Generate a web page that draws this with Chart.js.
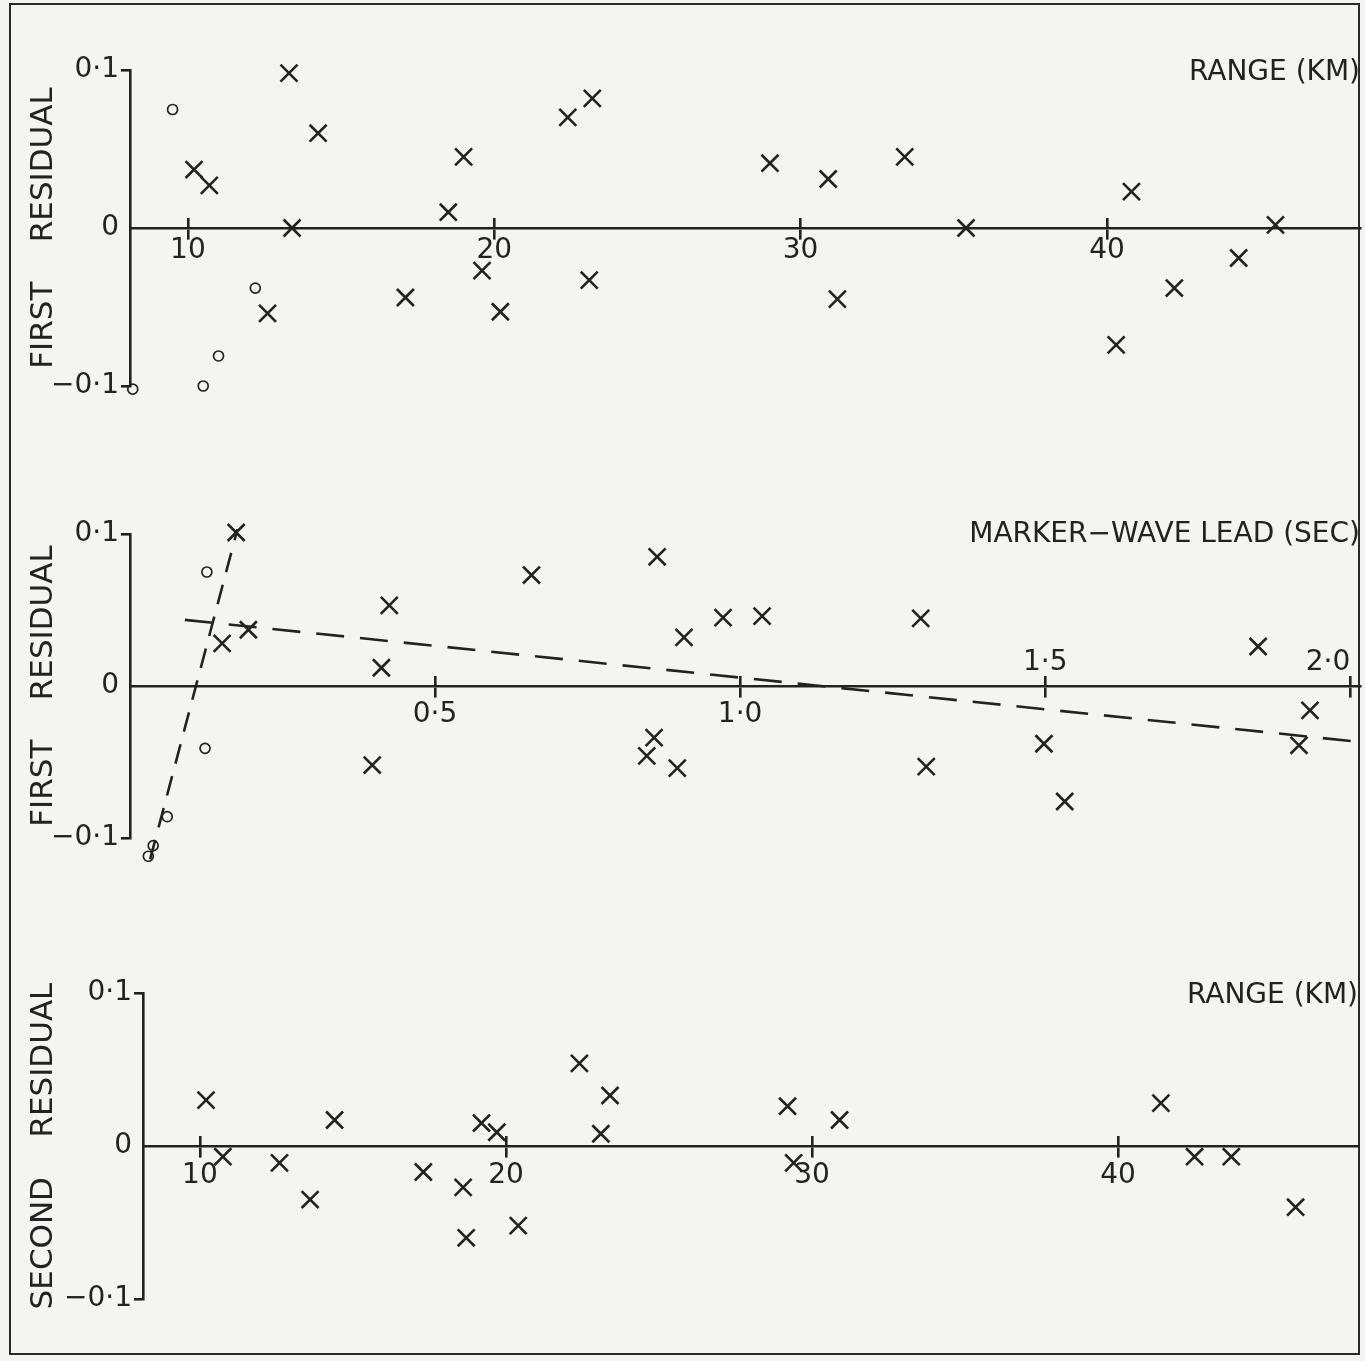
<!DOCTYPE html>
<html>
<head>
<meta charset="utf-8">
<script src="https://cdn.jsdelivr.net/npm/chart.js@4.4.1/dist/chart.umd.min.js"></script>
<style>
  html, body { margin: 0; padding: 0; background: #f4f4f2; }
  #page { position: relative; width: 1365px; height: 1361px; overflow: hidden; }
  #frame { position: absolute; left: 9px; top: 3px; width: 1351px; height: 1352px; border: 2px solid #2a2a2a; box-sizing: border-box; }
  canvas { position: absolute; left: 0; }
</style>
</head>
<body>
<div id="page">
  <div id="frame"></div>
  <canvas id="rangeChart" width="1365" height="460" style="top:0"></canvas>
  <canvas id="leadChart" width="1365" height="460" style="top:460px"></canvas>
  <canvas id="secondChart" width="1365" height="441" style="top:920px"></canvas>
</div>
<script>
    'use strict';

    // --- top panel: first residual vs range ---
    const RANGE1_CROSS_KM = [13.3, 10.2, 10.7, 14.25, 12.6, 13.4, 17.1, 18.5, 19.0, 19.6, 20.2, 22.4,
        23.2, 23.1, 29.0, 30.9, 31.2, 33.4, 35.4, 40.8, 40.3, 42.2, 44.3, 45.5];
    const RES1_CROSS = [0.098, 0.037, 0.027, 0.060, -0.054, 0.000, -0.044, 0.010, 0.045, -0.027, -0.053, 0.070,
        0.082, -0.033, 0.041, 0.031, -0.045, 0.045, 0.000, 0.023, -0.074, -0.038, -0.019, 0.002];
    const RANGE1_CIRCLE_KM = [9.5, 12.2, 11.0, 10.5, 8.2];
    const RES1_CIRCLE = [0.075, -0.038, -0.081, -0.100, -0.102];

    // --- middle panel: first residual vs marker-wave lead ---
    const LEAD_CROSS_SEC = [0.174, 0.151, 0.194, 0.425, 0.412, 0.397, 0.658, 0.864, 0.908, 0.859, 0.847,
        0.897, 0.972, 1.036, 1.296, 1.305, 1.498, 1.532, 1.849, 1.934, 1.916];
    const RES2_CROSS = [0.101, 0.028, 0.037, 0.053, 0.012, -0.052, 0.073, 0.085, 0.032, -0.034, -0.046,
        -0.054, 0.045, 0.046, 0.0445, -0.053, -0.038, -0.076, 0.026, -0.016, -0.039];
    const LEAD_CIRCLE_SEC = [0.126, 0.123, 0.061, 0.038, 0.030];
    const RES2_CIRCLE = [0.075, -0.041, -0.086, -0.105, -0.112];
    const STEEP_FIT_SEC = [0.033, 0.176];
    const STEEP_FIT_RES = [-0.114, 0.103];
    const SHALLOW_FIT_SEC = [0.090, 2.02];
    const SHALLOW_FIT_RES = [0.0435, -0.037];

    // --- bottom panel: second residual vs range ---
    const RANGE3_KM = [10.2, 10.75, 12.6, 13.6, 14.4, 17.3, 18.6, 18.7, 19.2, 19.7, 20.4, 22.4, 23.4, 23.1,
        29.2, 29.4, 30.9, 41.4, 42.5, 43.7, 45.8];
    const RES3 = [0.030, -0.007, -0.011, -0.035, 0.017, -0.017, -0.027, -0.060, 0.015, 0.009, -0.052, 0.054,
        0.033, 0.008, 0.026, -0.011, 0.017, 0.028, -0.007, -0.007, -0.040];

    // ticks
    const RANGE_TICKS = [10, 20, 30, 40];
    const LEAD_TICKS = [0.5, 1.0, 1.5, 2.0];
    const LEAD_TICKS_BELOW = [0.5, 1.0];
    const LEAD_TICKS_ABOVE = [1.5, 2.0];
    const RESIDUAL_TICKS = [-0.1, 0, 0.1];

    const INK = '#222222';
    const FAMILY = '"DejaVu Sans", Arial, sans-serif';
    const TICK_FONT = { family: FAMILY, size: 28 };
    const LABEL_FONT = { family: FAMILY, size: 28 };
    const TITLE_FONT = { family: FAMILY, size: 31 };

    const zip = (xs, ys) => xs.map((x, i) => ({ x, y: ys[i] }));

    /** 0.1 -> "0·1", with a real minus sign */
    function fmtDecimal(v) {
        if (v === 0) return '0';
        return (v < 0 ? '\u2212' : '') + Math.abs(v).toFixed(1).replace('.', '\u00B7');
    }

    // hoverRadius only widens the "in area" margin so marks just past +-0.1 still get drawn
    // (events are off, so it is never used for hovering)
    const crosses = data => ({
        data, pointStyle: 'crossRot', pointRadius: 12, hoverRadius: 24, borderColor: INK, borderWidth: 2.6,
        backgroundColor: INK, clip: false
    });
    const circles = data => ({
        data, pointStyle: 'circle', pointRadius: 5, hoverRadius: 24, borderColor: INK, borderWidth: 1.7,
        backgroundColor: 'rgba(0,0,0,0)', clip: false
    });
    const dashed = (data, dash) => ({
        data, showLine: true, pointRadius: 0, borderColor: INK, borderWidth: 2.6,
        borderDash: dash, fill: false, clip: false
    });

    /** One panel: residual (y) against a horizontal axis that crosses at zero */
    function buildPanel(canvasId, p) {
        const canvas = document.getElementById(canvasId);
        const W = canvas.width, H = canvas.height;
        const fixTicks = values => scale => { scale.ticks = values.map(v => ({ value: v })); };
        const flatX = scale => { scale.height = 0; scale.paddingLeft = 0; scale.paddingRight = 0; };

        return new Chart(canvas, {
            type: 'scatter',
            data: { datasets: p.datasets },
            options: {
                responsive: false,
                animation: false,
                events: [],
                layout: {
                    autoPadding: false,
                    padding: { top: p.area.top, bottom: H - p.area.bottom, left: 0, right: W - p.area.right }
                },
                plugins: { legend: { display: false }, tooltip: { enabled: false } },
                scales: {
                    x: {
                        type: 'linear', position: { y: 0 }, min: p.xMin, max: p.xMax,
                        afterBuildTicks: fixTicks(p.xTicks), afterFit: flatX,
                        border: { display: true, color: INK, width: 2.6 },
                        grid: { drawOnChartArea: false, tickLength: 10, color: INK, lineWidth: 2.6 },
                        ticks: {
                            font: TICK_FONT, color: INK, padding: p.belowPad, maxRotation: 0, autoSkip: false,
                            callback: v => p.xBelow.includes(v) ? p.xFormat(v) : ''
                        },
                        title: {
                            display: true, text: p.xTitle, align: 'end', font: LABEL_FONT, color: INK,
                            padding: { top: 0, bottom: p.titleLift }
                        }
                    },
                    xUp: {
                        type: 'linear', axis: 'x', position: { y: 0 }, min: p.xMin, max: p.xMax,
                        afterBuildTicks: fixTicks(p.xTicks), afterFit: flatX,
                        border: { display: false },
                        grid: { drawOnChartArea: false, tickLength: -10, color: INK, lineWidth: 2.6 },
                        ticks: {
                            font: TICK_FONT, color: INK, padding: -30, maxRotation: 0, autoSkip: false,
                            align: 'inner',
                            callback: v => p.xAbove.includes(v) ? p.xFormat(v) : ''
                        }
                    },
                    y: {
                        type: 'linear', position: 'left', min: -0.1, max: 0.1,
                        afterBuildTicks: fixTicks(RESIDUAL_TICKS),
                        afterFit: s => { s.width = p.area.left; s.paddingTop = 0; s.paddingBottom = 0; },
                        border: { display: true, color: INK, width: 2.6 },
                        grid: {
                            drawOnChartArea: false, tickLength: 9, lineWidth: 2.6,
                            tickColor: ctx => (ctx.tick && ctx.tick.value === 0) ? 'rgba(0,0,0,0)' : INK
                        },
                        ticks: { font: TICK_FONT, color: INK, padding: 2, callback: fmtDecimal },
                        title: {
                            display: true, text: p.yTitle, font: TITLE_FONT, color: INK,
                            padding: { top: 25, bottom: 0 }
                        }
                    }
                }
            }
        });
    }

    buildPanel('rangeChart', {
        area: { left: 130, right: 1360, top: 70, bottom: 386 },
        xMin: 8.11, xMax: 48.26, xTicks: RANGE_TICKS,
        xBelow: RANGE_TICKS, xAbove: [], xFormat: v => String(v), belowPad: -4,
        xTitle: 'RANGE (KM)', titleLift: 138,
        yTitle: 'FIRST    RESIDUAL',
        datasets: [crosses(zip(RANGE1_CROSS_KM, RES1_CROSS)), circles(zip(RANGE1_CIRCLE_KM, RES1_CIRCLE))]
    });

    buildPanel('leadChart', {
        area: { left: 130, right: 1360, top: 74, bottom: 378 },
        xMin: 0, xMax: 2.016, xTicks: LEAD_TICKS,
        xBelow: LEAD_TICKS_BELOW, xAbove: LEAD_TICKS_ABOVE, xFormat: fmtDecimal, belowPad: 2,
        xTitle: 'MARKER\u2212WAVE LEAD (SEC)', titleLift: 134,
        yTitle: 'FIRST    RESIDUAL',
        datasets: [
            crosses(zip(LEAD_CROSS_SEC, RES2_CROSS)),
            circles(zip(LEAD_CIRCLE_SEC, RES2_CIRCLE)),
            dashed(zip(STEEP_FIT_SEC, STEEP_FIT_RES), [20, 13]),
            dashed(zip(SHALLOW_FIT_SEC, SHALLOW_FIT_RES), [28, 16])
        ]
    });

    buildPanel('secondChart', {
        area: { left: 143, right: 1358, top: 73, bottom: 379 },
        xMin: 8.14, xMax: 47.84, xTicks: RANGE_TICKS,
        xBelow: RANGE_TICKS, xAbove: [], xFormat: v => String(v), belowPad: 3,
        xTitle: 'RANGE (KM)', titleLift: 133,
        yTitle: 'SECOND    RESIDUAL',
        datasets: [crosses(zip(RANGE3_KM, RES3))]
    });
</script>
</body>
</html>
